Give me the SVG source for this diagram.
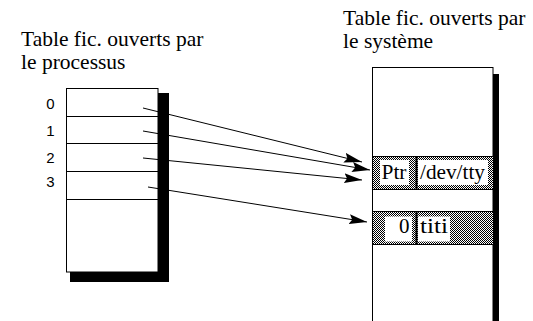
<svg xmlns="http://www.w3.org/2000/svg" width="533" height="321" viewBox="0 0 533 321">
<defs>
<pattern id="dither" patternUnits="userSpaceOnUse" width="2" height="2">
<rect width="2" height="2" fill="#ffffff"/>
<rect x="0" y="0" width="1" height="1" fill="#000000"/>
<rect x="1" y="1" width="1" height="1" fill="#000000"/>
</pattern>
<marker id="ah" markerUnits="userSpaceOnUse" markerWidth="18" markerHeight="10" refX="18" refY="5" orient="auto">
<path d="M0,0 L18,5 L0,10 L3,5 z" fill="#000"/>
</marker>
</defs>
<style>
.title{font-family:"Liberation Serif","Times New Roman",serif;font-size:21.5px;fill:#000}
.serif{font-family:"Liberation Serif","Times New Roman",serif;font-size:21px;fill:#000}
.idx{font-family:"Liberation Sans",Arial,sans-serif;font-size:15px;fill:#000;text-anchor:middle}
.box{fill:#fff;stroke:#000;stroke-width:1}
.sep{stroke:#000;stroke-width:1}
.arrow{stroke:#000;stroke-width:1;fill:none;marker-end:url(#ah)}
</style>
<rect width="533" height="321" fill="#fff"/>

<g id="title-process">
<text class="title" x="21" y="46">Table fic. ouverts par</text>
<text class="title" x="21" y="68.5">le processus</text>
</g>

<g id="title-system">
<text class="title" x="343" y="25">Table fic. ouverts par</text>
<text class="title" x="343" y="47.5">le système</text>
</g>

<g id="process-table">
<rect x="158" y="93" width="11" height="189" fill="#000"/>
<rect x="70" y="272" width="99" height="10" fill="#000"/>
<rect class="box" x="66.5" y="88.5" width="91.5" height="183.5"/>
<line class="sep" x1="66.5" y1="116.5" x2="158" y2="116.5"/>
<line class="sep" x1="66.5" y1="143.5" x2="158" y2="143.5"/>
<line class="sep" x1="66.5" y1="171.5" x2="158" y2="171.5"/>
<line class="sep" x1="66.5" y1="199.5" x2="158" y2="199.5"/>
<text class="idx" x="50.5" y="109">0</text>
<text class="idx" x="50.5" y="136">1</text>
<text class="idx" x="50.5" y="163">2</text>
<text class="idx" x="50.5" y="187">3</text>
</g>

<g id="system-table">
<rect x="493" y="74" width="6" height="247" fill="#000"/>
<rect class="box" x="372.5" y="67.5" width="120.5" height="260"/>
<rect x="373" y="157" width="120" height="32" fill="url(#dither)"/>
<line class="sep" x1="372.5" y1="156.5" x2="493" y2="156.5"/>
<line class="sep" x1="372.5" y1="189.5" x2="493" y2="189.5"/>
<rect x="373" y="212" width="120" height="32" fill="url(#dither)"/>
<line class="sep" x1="372.5" y1="211.5" x2="493" y2="211.5"/>
<line class="sep" x1="372.5" y1="244.5" x2="493" y2="244.5"/>
<line x1="416.5" y1="157" x2="416.5" y2="189" stroke="#000" stroke-width="2"/>
<line x1="416.5" y1="212" x2="416.5" y2="244" stroke="#000" stroke-width="2"/>
</g>

<g id="entry-tty">
<rect x="380" y="160" width="29" height="25" fill="#fff"/>
<rect x="418" y="160" width="70" height="25" fill="#fff"/>
<text class="serif" x="381.5" y="178.5" textLength="25" lengthAdjust="spacingAndGlyphs">Ptr</text>
<text class="serif" x="420" y="178.5" textLength="65" lengthAdjust="spacingAndGlyphs">/dev/tty</text>
</g>

<g id="entry-titi">
<rect x="385" y="216.5" width="27" height="25" fill="#fff"/>
<rect x="418" y="216.5" width="32" height="25" fill="#fff"/>
<text class="serif" x="409.5" y="233" text-anchor="end">0</text>
<text class="serif" x="420" y="233" textLength="28" lengthAdjust="spacingAndGlyphs">titi</text>
</g>

<g id="connectors">
<line class="arrow" x1="143" y1="108" x2="362" y2="162"/>
<line class="arrow" x1="143" y1="131" x2="370" y2="170"/>
<line class="arrow" x1="143" y1="158" x2="362" y2="180"/>
<line class="arrow" x1="148" y1="187" x2="367" y2="222"/>
</g>
</svg>
